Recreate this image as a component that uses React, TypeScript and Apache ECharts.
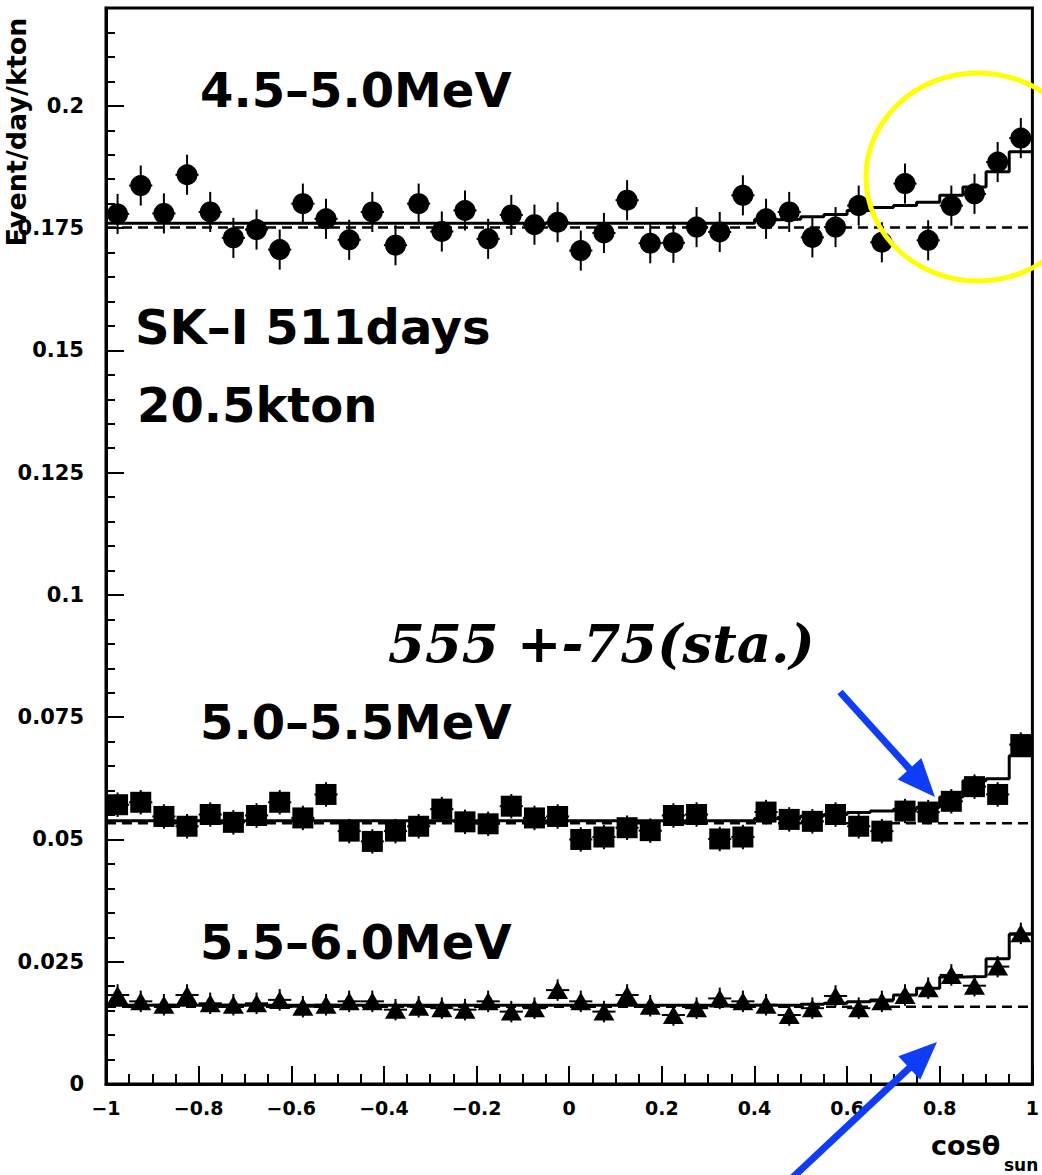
import React, { useEffect, useRef } from "react";
import * as echarts from "echarts";

// ---- data ----
const binCenters = [
  -0.975, -0.925, -0.875, -0.825, -0.775, -0.725, -0.675, -0.625, -0.575, -0.525,
  -0.475, -0.425, -0.375, -0.325, -0.275, -0.225, -0.175, -0.125, -0.075, -0.025,
  0.025, 0.075, 0.125, 0.175, 0.225, 0.275, 0.325, 0.375, 0.425, 0.475,
  0.525, 0.575, 0.625, 0.675, 0.725, 0.775, 0.825, 0.875, 0.925, 0.975,
];
const HALF_BIN = 0.025;

// 4.5-5.0 MeV (circles)
const circleValues = [
  0.1779, 0.1837, 0.178, 0.1859, 0.1783, 0.173, 0.1747, 0.1706, 0.18, 0.1769,
  0.1726, 0.1783, 0.1715, 0.18, 0.1743, 0.1786, 0.1728, 0.1777, 0.1757, 0.1762,
  0.1704, 0.174, 0.1807, 0.1719, 0.172, 0.1752, 0.1742, 0.1817, 0.1769, 0.1783,
  0.1731, 0.1752, 0.1796, 0.1721, 0.1841, 0.1725, 0.1796, 0.182, 0.1885, 0.1934,
];
const circleFit = [
  0.176, 0.176, 0.176, 0.176, 0.176, 0.176, 0.176, 0.176, 0.176, 0.176,
  0.176, 0.176, 0.176, 0.176, 0.176, 0.176, 0.176, 0.176, 0.176, 0.176,
  0.176, 0.176, 0.176, 0.176, 0.176, 0.176, 0.176, 0.176, 0.1767, 0.1768,
  0.1773, 0.1778, 0.1786, 0.1792, 0.1796, 0.1803, 0.1817, 0.1834, 0.1865, 0.1906,
];
const circleBackground = 0.1751;
const circleError = 0.0041;

// 5.0-5.5 MeV (squares)
const squareValues = [
  0.0571, 0.0576, 0.0547, 0.0527, 0.0551, 0.0535, 0.0549, 0.0576, 0.0544, 0.0592,
  0.0517, 0.0496, 0.0517, 0.0527, 0.0562, 0.0536, 0.0532, 0.0568, 0.0544, 0.0547,
  0.05, 0.0505, 0.0524, 0.0518, 0.0549, 0.0551, 0.0501, 0.0505, 0.0556, 0.0541,
  0.0537, 0.0551, 0.0527, 0.0517, 0.0558, 0.0556, 0.0578, 0.0608, 0.0592, 0.0694,
];
const squareFit = [
  0.0538, 0.0538, 0.0538, 0.0538, 0.0538, 0.0538, 0.0538, 0.0538, 0.0538, 0.0538,
  0.0538, 0.0538, 0.0538, 0.0538, 0.0538, 0.0538, 0.0538, 0.0538, 0.0538, 0.0538,
  0.0538, 0.0538, 0.0538, 0.0538, 0.0538, 0.0538, 0.0538, 0.0538, 0.0543, 0.0545,
  0.0548, 0.0551, 0.0555, 0.0558, 0.0562, 0.0566, 0.0587, 0.062, 0.0624, 0.0671,
];
const squareBackground = 0.0533;
const squareError = 0.0025;

// 5.5-6.0 MeV (triangles)
const triangleValues = [
  0.0182, 0.0169, 0.0162, 0.0182, 0.0165, 0.0162, 0.0165, 0.0172, 0.0158, 0.0162,
  0.0169, 0.0169, 0.0152, 0.0158, 0.0155, 0.0152, 0.0169, 0.0148, 0.0155, 0.0192,
  0.0169, 0.0148, 0.0182, 0.016, 0.0141, 0.0155, 0.0175, 0.0169, 0.0162, 0.0141,
  0.0155, 0.018, 0.0155, 0.0169, 0.0182, 0.0196, 0.0223, 0.0201, 0.024, 0.0308,
];
const triangleFit = [
  0.0161, 0.0161, 0.0161, 0.0161, 0.0161, 0.0161, 0.0161, 0.0161, 0.0161, 0.0161,
  0.0161, 0.0161, 0.0161, 0.0161, 0.0161, 0.0161, 0.0161, 0.0161, 0.0161, 0.0161,
  0.0161, 0.0161, 0.0161, 0.0161, 0.0161, 0.0161, 0.0161, 0.0161, 0.0161, 0.0161,
  0.0163, 0.0165, 0.0168, 0.0172, 0.0182, 0.0196, 0.0219, 0.022, 0.0256, 0.0306,
];
const triangleBackground = 0.0158;
const triangleError = 0.0022;

const X_MIN = -1;
const X_MAX = 1;
const Y_MIN = 0;
const Y_MAX = 0.22;

const FONT = "DejaVu Sans";
const BLUE = "#0f3cf7";

function stepData(fit: number[]) {
  const pts: number[][] = fit.map((v, i) => [binCenters[i] - HALF_BIN, v]);
  pts.push([binCenters[binCenters.length - 1] + HALF_BIN, fit[fit.length - 1]]);
  return pts;
}

function errorSeries(values: number[], err: number) {
  return {
    type: "custom",
    z: 3,
    renderItem: (params: any, api: any) => {
      const x = api.value(0);
      const y = api.value(1);
      const e = api.value(2);
      const c = api.coord([x, y]);
      const top = api.coord([x, y + e]);
      const bot = api.coord([x, y - e]);
      const l = api.coord([x - HALF_BIN, y]);
      const r = api.coord([x + HALF_BIN, y]);
      return {
        type: "group",
        children: [
          {
            type: "line",
            shape: { x1: c[0], y1: top[1], x2: c[0], y2: bot[1] },
            style: { stroke: "#000", lineWidth: 2 },
          },
          {
            type: "line",
            shape: { x1: l[0], y1: c[1], x2: r[0], y2: c[1] },
            style: { stroke: "#000", lineWidth: 2 },
          },
        ],
      };
    },
    data: values.map((v, i) => [binCenters[i], v, err]),
  };
}

function markerSeries(values: number[], symbol: string, size: any) {
  return {
    type: "scatter",
    z: 4,
    symbol,
    symbolSize: size,
    itemStyle: { color: "#000", opacity: 1 },
    data: values.map((v, i) => [binCenters[i], v]),
  };
}

function fitSeries(fit: number[]) {
  return {
    type: "line",
    z: 2,
    step: "end",
    showSymbol: false,
    symbol: "none",
    lineStyle: { color: "#000", width: 3 },
    data: stepData(fit),
  };
}

function bgSeries(v: number) {
  return {
    type: "line",
    z: 1,
    showSymbol: false,
    symbol: "none",
    lineStyle: { color: "#000", width: 2.5, type: [10, 6] },
    data: [
      [X_MIN, v],
      [X_MAX, v],
    ],
  };
}

function arrow(x1: number, y1: number, x2: number, y2: number) {
  const dx = x2 - x1;
  const dy = y2 - y1;
  const len = Math.hypot(dx, dy);
  const ux = dx / len;
  const uy = dy / len;
  const headLen = 38;
  const headHalf = 16;
  const bx = x2 - ux * headLen;
  const by = y2 - uy * headLen;
  const nx = -uy;
  const ny = ux;
  return [
    {
      type: "line",
      z: 100,
      shape: { x1, y1, x2: bx + ux * 2, y2: by + uy * 2 },
      style: { stroke: BLUE, lineWidth: 7 },
    },
    {
      type: "polygon",
      z: 100,
      shape: {
        points: [
          [x2, y2],
          [bx + nx * headHalf, by + ny * headHalf],
          [bx - nx * headHalf, by - ny * headHalf],
        ],
      },
      style: { fill: BLUE },
    },
  ];
}

function label(text: string, x: number, y: number, size: number, extra: any = {}) {
  return {
    type: "text",
    z: 50,
    x,
    y,
    style: {
      text,
      fontSize: size,
      fontWeight: "bold",
      fontFamily: FONT,
      fill: "#000",
      align: "left",
      verticalAlign: "middle",
      ...extra,
    },
  };
}

export default function App() {
  const ref = useRef<HTMLDivElement>(null);

  useEffect(() => {
    if (!ref.current) return;
    const chart = echarts.init(ref.current, undefined, { renderer: "svg" });

    const option: any = {
      animation: false,
      backgroundColor: "#fff",
      grid: {
        left: 106,
        right: 5,
        top: 8,
        bottom: 91,
        show: true,
        borderColor: "#000",
        borderWidth: 3,
        backgroundColor: "transparent",
      },
      xAxis: {
        type: "value",
        min: X_MIN,
        max: X_MAX,
        interval: 0.2,
        axisLine: { show: true, onZero: false, lineStyle: { color: "#000", width: 3 } },
        axisTick: { show: true, inside: true, length: 18, lineStyle: { color: "#000", width: 2 } },
        minorTick: { show: true, splitNumber: 4, length: 10, lineStyle: { color: "#000", width: 2 } },
        splitLine: { show: false },
        axisLabel: {
          margin: 14,
          fontSize: 19,
          fontWeight: "bold",
          fontFamily: FONT,
          color: "#000",
          formatter: (v: number) => {
            const r = +v.toFixed(2);
            return r < 0 ? "\u2212" + String(-r) : String(r);
          },
        },
      },
      yAxis: [
        {
          type: "value",
          min: Y_MIN,
          max: Y_MAX,
          interval: 0.025,
          position: "left",
          axisLine: { show: true, onZero: false, lineStyle: { color: "#000", width: 3 } },
          axisTick: { show: true, inside: true, length: 18, lineStyle: { color: "#000", width: 2 } },
          splitLine: { show: false },
          axisLabel: {
            margin: 22,
            fontSize: 21,
            fontWeight: "bold",
            fontFamily: FONT,
            color: "#000",
            formatter: (v: number) => (Math.abs(v - Y_MAX) < 1e-9 ? "" : String(+v.toFixed(3))),
          },
        },
        {
          type: "value",
          min: Y_MIN,
          max: Y_MAX,
          interval: 0.005,
          position: "left",
          axisLine: { show: false, onZero: false },
          axisTick: { show: true, inside: true, length: 9, lineStyle: { color: "#000", width: 2 } },
          splitLine: { show: false },
          axisLabel: { show: false },
        },
      ],
      series: [
        bgSeries(circleBackground),
        bgSeries(squareBackground),
        bgSeries(triangleBackground),
        fitSeries(circleFit),
        fitSeries(squareFit),
        fitSeries(triangleFit),
        errorSeries(circleValues, circleError),
        errorSeries(squareValues, squareError),
        errorSeries(triangleValues, triangleError),
        markerSeries(circleValues, "circle", 21),
        markerSeries(squareValues, "rect", 21),
        markerSeries(triangleValues, "triangle", [21, 18]),
      ],
      graphic: [
        label("4.5\u20135.0MeV", 200, 90, 48),
        label("SK\u2013I 511days", 135, 327, 48),
        label("20.5kton", 137, 405, 48),
        label("5.0\u20135.5MeV", 200, 722, 48),
        label("5.5\u20136.0MeV", 200, 942, 48),
        label("555 +-75(sta.)", 388, 643, 53, {
          fontFamily: "DejaVu Serif",
          fontStyle: "italic",
        }),
        {
          type: "text",
          z: 50,
          x: 16,
          y: 132,
          rotation: Math.PI / 2,
          style: {
            text: "Event/day/kton",
            fontSize: 27,
            fontWeight: "bold",
            fontFamily: FONT,
            fill: "#000",
            align: "center",
            verticalAlign: "middle",
          },
        },
        label("cos\u03b8", 931, 1145, 27),
        label("sun", 1004, 1165, 17),
        {
          type: "ellipse",
          z: 100,
          shape: { cx: 978, cy: 177, rx: 112, ry: 104 },
          style: { fill: "none", stroke: "#ffff00", lineWidth: 5 },
        },
        ...arrow(840, 692, 935, 797),
        ...arrow(790, 1180, 937, 1042),
      ],
    };

    chart.setOption(option);
    return () => {
      chart.dispose();
    };
  }, []);

  return (
    <div
      ref={ref}
      style={{ position: "absolute", left: 0, top: 0, width: 1042, height: 1175 }}
    />
  );
}
